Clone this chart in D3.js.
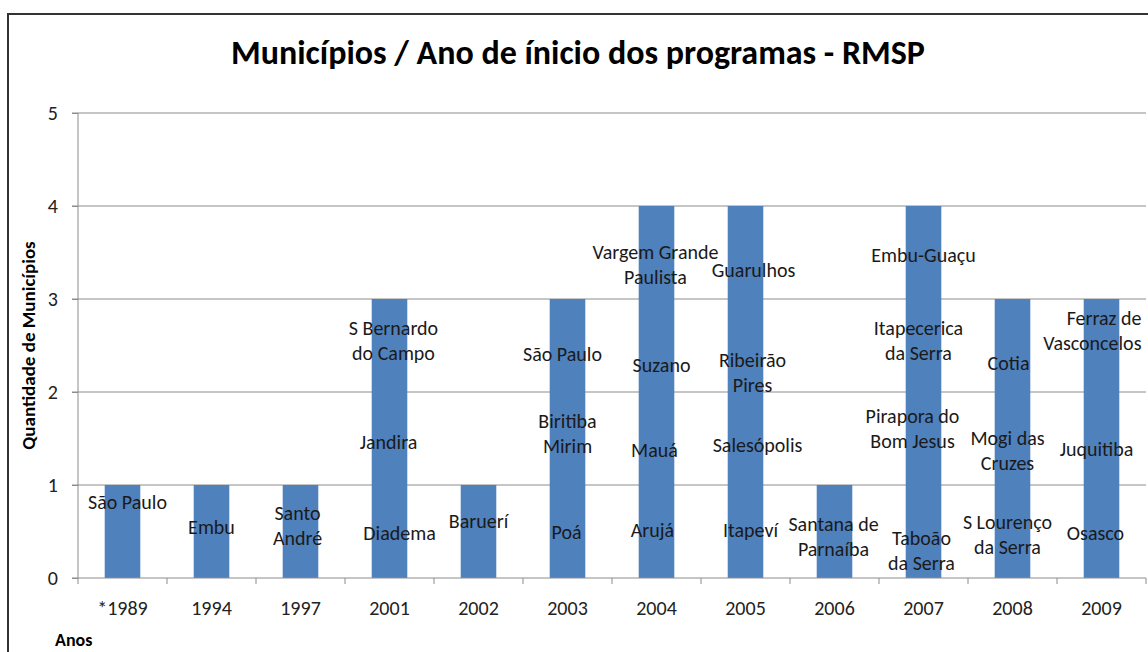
<!DOCTYPE html>
<html>
<head>
<meta charset="utf-8">
<script src="https://cdn.jsdelivr.net/npm/d3@7"></script>
<style>
  body { margin: 0; background: #fff; }
  svg text { font-family: Carlito, Calibri, Lato, "Open Sans", sans-serif; }
</style>
</head>
<body>
<svg id="chart" width="1148" height="652"></svg>
<script>
// categories (years) and number of municipalities per year
var anos = ["*1989", "1994", "1997", "2001", "2002", "2003", "2004", "2005", "2006", "2007", "2008", "2009"];
var quantidades = [1, 1, 1, 3, 1, 3, 4, 4, 1, 4, 3, 3];
var yTicks = [0, 1, 2, 3, 4, 5];

// municipality names for each unit of each bar, bottom to top ("\n" = line break)
var municipios = [
    ["São Paulo"],
    ["Embu"],
    ["Santo\nAndré"],
    ["Diadema", "Jandira", "S Bernardo\ndo Campo"],
    ["Baruerí"],
    ["Poá", "Biritiba\nMirim", "São Paulo"],
    ["Arujá", "Mauá", "Suzano", "Vargem Grande\nPaulista"],
    ["Itapeví", "Salesópolis", "Ribeirão\nPires", "Guarulhos"],
    ["Santana de\nParnaíba"],
    ["Taboão\nda Serra", "Pirapora do\nBom Jesus", "Itapecerica\nda Serra", "Embu-Guaçu"],
    ["S Lourenço\nda Serra", "Mogi  das\nCruzes", "Cotia"],
    ["Osasco", "Juquitiba", "Ferraz de\nVasconcelos"]
];

// manual label nudges in px (labels were dragged around in the original)
var labelNudge = {
    "0|0": [5, -30], "1|0": [0, -5], "2|0": [-3, -6],
    "3|0": [10, 1], "3|1": [-1, 3], "3|2": [4, -5],
    "4|0": [0, -11],
    "5|0": [-1, 0], "5|1": [0, -5], "5|2": [-5, 8],
    "6|0": [-4, -2], "6|1": [-2, 11], "6|2": [5, 19], "6|3": [-1, 12],
    "7|0": [5, -2], "7|1": [12, 6], "7|2": [7, 27], "7|3": [8, 17],
    "8|0": [-1, 5],
    "9|0": [-2, 19], "9|1": [-11, -10], "9|2": [-5, -5], "9|3": [0, 2],
    "10|0": [-5, 3], "10|1": [-5, 12], "10|2": [-4, 17],
    "11|0": [-6, 1], "11|1": [-5, 10], "11|2": [40, -15, "end"]
};

var svg = d3.select("#chart");

// chart border (only top and left visible)
svg.append("rect")
    .attr("x", 8).attr("y", 14)
    .attr("width", 1160).attr("height", 660)
    .attr("fill", "none")
    .attr("stroke", "#333")
    .attr("stroke-width", 2);

var margin = {top: 113, left: 78},
    width = 1146 - 78,
    height = 578 - 113;

var g = svg.append("g")
    .attr("transform", "translate(" + margin.left + "," + margin.top + ")");

var x = d3.scaleBand()
    .domain(anos)
    .range([0, width])
    .paddingInner(0.6)
    .paddingOuter(0.3);

var xb = d3.scaleBand().domain(anos).range([0, width]); // category slots for ticks

var y = d3.scaleLinear()
    .domain([0, 5])
    .range([height, 0]);

// gridlines
g.selectAll(".grid")
    .data(yTicks.slice(1))
    .enter().append("line")
    .attr("x1", -6).attr("x2", width)
    .attr("y1", d => y(d)).attr("y2", d => y(d))
    .attr("stroke", "#8c8c8c")
    .attr("stroke-width", 1);

// bars
g.selectAll(".bar")
    .data(anos)
    .enter().append("rect")
    .attr("x", d => x(d))
    .attr("width", x.bandwidth())
    .attr("y", (d, i) => y(quantidades[i]))
    .attr("height", (d, i) => height - y(quantidades[i]))
    .attr("fill", "#4f81bd");

// y axis
var yAxis = g.append("g")
    .call(d3.axisLeft(y).tickValues(yTicks).tickFormat(d3.format("d")).tickSize(6).tickPadding(14));
yAxis.select(".domain").attr("stroke", "#8c8c8c").attr("d", "M0," + height + "V0");
yAxis.selectAll(".tick line").attr("stroke", "#8c8c8c");
yAxis.selectAll("text")
    .style("font-size", "20px")
    .attr("fill", "#222");

// x axis with ticks between categories
var xAxis = g.append("g")
    .attr("transform", "translate(0," + height + ")");
xAxis.append("line")
    .attr("x1", -6).attr("x2", width)
    .attr("stroke", "#8c8c8c");
xAxis.selectAll(".xtick")
    .data(anos.concat(["end"]))
    .enter().append("line")
    .attr("x1", (d, i) => i * xb.step())
    .attr("x2", (d, i) => i * xb.step())
    .attr("y1", 0).attr("y2", 6)
    .attr("stroke", "#8c8c8c");
xAxis.selectAll(".xlabel")
    .data(anos)
    .enter().append("text")
    .attr("x", d => xb(d) + xb.bandwidth() / 2)
    .attr("y", 30)
    .attr("text-anchor", "middle")
    .attr("dominant-baseline", "central")
    .style("font-size", "20px")
    .attr("fill", "#222")
    .text(d => d);

// data labels, one per unit segment
var labels = [];
anos.forEach(function (ano, i) {
    municipios[i].forEach(function (nome, j) {
        var n = labelNudge[i + "|" + j] || [0, 0];
        labels.push({
            nome: nome,
            cx: x(ano) + x.bandwidth() / 2 + n[0],
            cy: y(j + 0.5) + n[1],
            anchor: n[2] || "middle"
        });
    });
});

var lineH = 25;
var lbl = g.selectAll(".lbl")
    .data(labels)
    .enter().append("text")
    .attr("text-anchor", d => d.anchor)
    .style("font-size", "20px")
    .attr("fill", "#1a1a1a");
lbl.each(function (d) {
    var lines = d.nome.split("\n");
    var t = d3.select(this);
    lines.forEach(function (ln, k) {
        t.append("tspan")
            .attr("x", d.cx)
            .attr("y", d.cy + (k - (lines.length - 1) / 2) * lineH)
            .attr("dominant-baseline", "central")
            .text(ln);
    });
});

// title
svg.append("text")
    .attr("x", 578)
    .attr("y", 52)
    .attr("text-anchor", "middle")
    .attr("dominant-baseline", "central")
    .style("font-size", "34px")
    .style("font-weight", "bold")
    .attr("fill", "#000")
    .text("Municípios / Ano de ínicio dos programas - RMSP");

// axis titles
svg.append("text")
    .attr("transform", "translate(28," + (margin.top + height / 2) + ") rotate(-90)")
    .attr("text-anchor", "middle")
    .attr("dominant-baseline", "central")
    .style("font-size", "19px")
    .style("font-weight", "bold")
    .text("Quantidade de Municípios");

svg.append("text")
    .attr("x", 55)
    .attr("y", 640)
    .attr("dominant-baseline", "central")
    .style("font-size", "18px")
    .style("font-weight", "bold")
    .text("Anos");
</script>
</body>
</html>
